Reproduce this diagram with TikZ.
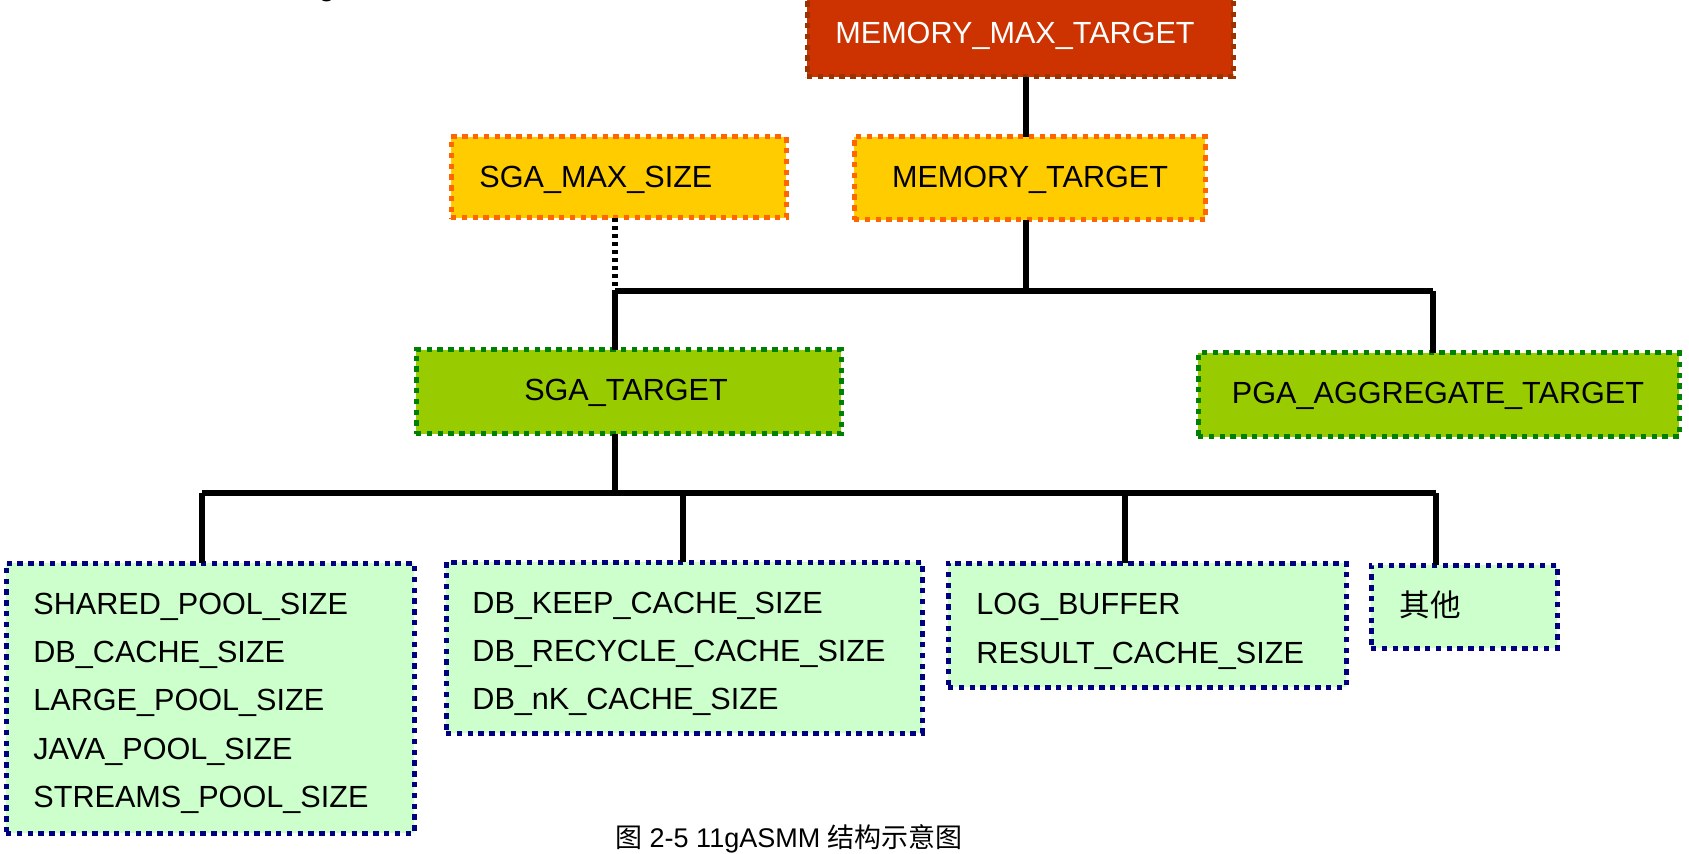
\documentclass[tikz,border=0pt]{standalone}
\usepackage{fontspec}
\setmainfont{Liberation Sans}
\newfontfamily\cjk{Noto Sans CJK SC}
\definecolor{mmtfill}{HTML}{CC3300}
\definecolor{mmtline}{HTML}{993300}
\definecolor{yelfill}{HTML}{FFCC00}
\definecolor{yelline}{HTML}{FF6600}
\definecolor{grnfill}{HTML}{99CC00}
\definecolor{grnline}{HTML}{008000}
\definecolor{ltfill}{HTML}{CCFFCC}
\definecolor{ltline}{HTML}{000080}
\tikzset{
  x=0.5pt, y=-0.5pt,
  pbox/.style={rectangle, inner sep=0pt, outer sep=0pt, line width=2.5pt,
    dash pattern=on 2.7pt off 2.7pt},
  redbox/.style={pbox, fill=mmtfill, draw=mmtline},
  yelbox/.style={pbox, fill=yelfill, draw=yelline},
  grnbox/.style={pbox, fill=grnfill, draw=grnline},
  ltbox/.style={pbox, fill=ltfill, draw=ltline},
  lbl/.style={inner sep=0pt, font=\fontsize{15.3}{18}\selectfont},
  conn/.style={line width=2.6pt, draw=black},
  dotconn/.style={line width=2.6pt, draw=black, dash pattern=on 2pt off 2pt},
}
\begin{document}
\begin{tikzpicture}
\useasboundingbox (0,0) rectangle (1689,854);
% boxes
\node[redbox, minimum width=213pt, minimum height=43.5pt] (mmt) at (1020,33.5) {};
\node[yelbox, minimum width=175.5pt, minimum height=41.5pt] (mt) at (1029.5,178.5) {};
\node[yelbox, minimum width=167.5pt, minimum height=40.5pt] (smax) at (618.5,177.5) {};
\node[grnbox, minimum width=212.5pt, minimum height=42pt] (sgat) at (628.5,392) {};
\node[grnbox, minimum width=240.5pt, minimum height=42pt] (pga) at (1438.5,395) {};
\node[ltbox, minimum width=204pt, minimum height=135pt] (b1) at (210,698) {};
\node[ltbox, minimum width=238pt, minimum height=85.5pt] (b2) at (684,647.5) {};
\node[ltbox, minimum width=199pt, minimum height=62pt] (b3) at (1147,625) {};
\node[ltbox, minimum width=93pt, minimum height=41.5pt] (b4) at (1464,606.5) {};
% labels
\node[lbl, anchor=base, text=white] (tmmt) at (1015,44) {MEMORY\_MAX\_TARGET};
\node[lbl, anchor=base] (tmt) at (1030,188) {MEMORY\_TARGET};
\node[lbl, anchor=base west] (tsmax) at (479,188) {SGA\_MAX\_SIZE};
\node[lbl, anchor=base] (tsgat) at (626,401) {SGA\_TARGET};
\node[lbl, anchor=base] (tpga) at (1438,404) {PGA\_AGGREGATE\_TARGET};
\node[lbl, anchor=base west] (t11) at (33,614) {SHARED\_POOL\_SIZE};
\node[lbl, anchor=base west] (t12) at (33,662) {DB\_CACHE\_SIZE};
\node[lbl, anchor=base west] (t13) at (33,710) {LARGE\_POOL\_SIZE};
\node[lbl, anchor=base west] (t14) at (33,759) {JAVA\_POOL\_SIZE};
\node[lbl, anchor=base west] (t15) at (33,807) {STREAMS\_POOL\_SIZE};
\node[lbl, anchor=base west] (t21) at (472,613) {DB\_KEEP\_CACHE\_SIZE};
\node[lbl, anchor=base west] (t22) at (472,661) {DB\_RECYCLE\_CACHE\_SIZE};
\node[lbl, anchor=base west] (t23) at (472,709) {DB\_nK\_CACHE\_SIZE};
\node[lbl, anchor=base west] (t31) at (976,614) {LOG\_BUFFER};
\node[lbl, anchor=base west] (t32) at (976,663) {RESULT\_CACHE\_SIZE};
\node[lbl, anchor=base west] (t41) at (1399,616) {\cjk 其他};
\node[inner sep=0pt, anchor=base, font=\fontsize{13.5}{16}\selectfont] (cap) at (789,847)
  {{\cjk 图} 2-5 11gASMM {\cjk 结构示意图}};
\node[lbl, anchor=base] (gfrag) at (327,-4.5) {g};
% junctions
\coordinate (tA) at (1026,291);
\coordinate (bL) at (615,291);
\coordinate (bR) at (1433,291);
\coordinate (s2) at (615,493);
\coordinate (d1) at (202,493);
\coordinate (d2) at (683,493);
\coordinate (d3) at (1125,493);
\coordinate (d4) at (1436,493);
% connectors
\draw[conn] (mmt.south -| tA) -- (mt.north -| tA);
\draw[conn] (mt.south -| tA) -- (tA);
\draw[conn] (bL) -- (bR);
\draw[conn] (bR) -- (bR |- pga.north);
\draw[dotconn] (smax.south -| bL) -- (bL);
\draw[conn] (bL) -- (bL |- sgat.north);
\draw[conn] (sgat.south -| s2) -- (s2);
\draw[conn] (d1) -- (d4);
\draw[conn] (d1) -- (d1 |- b1.north);
\draw[conn] (d2) -- (d2 |- b2.north);
\draw[conn] (d3) -- (d3 |- b3.north);
\draw[conn] (d4) -- (d4 |- b4.north);
\end{tikzpicture}
\end{document}
